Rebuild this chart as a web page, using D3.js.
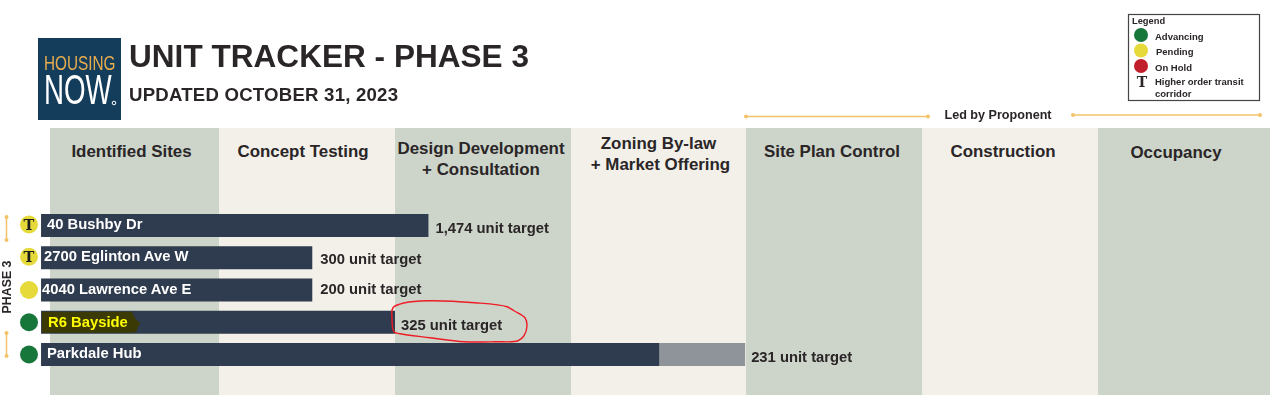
<!DOCTYPE html>
<html><head><meta charset="utf-8">
<script src="https://cdn.jsdelivr.net/npm/d3@7"></script>
<style>html,body{margin:0;padding:0;background:#fff}svg{display:block;filter:blur(0.35px)}text{font-family:"Liberation Sans",Arial,sans-serif;font-weight:700;fill:#2a2527}</style>
</head><body><svg id="c" width="1280" height="411"></svg>
<script>
const stages = ["Identified Sites","Concept Testing","Design Development|+ Consultation","Zoning By-law|+ Market Offering","Site Plan Control","Construction","Occupancy"];
const stageEdges = [0,1,2,3,4,5,6,7];
const sites = ["40 Bushby Dr","2700 Eglinton Ave W","4040 Lawrence Ave E","R6 Bayside","Parkdale Hub"];
const progress = [2.19,1.53,1.53,2.0,3.505];
const projected = [null,null,null,null,3.995];
const targets = ["1,474 unit target","300 unit target","200 unit target","325 unit target","231 unit target"];
const statuses = ["pending","pending","pending","advancing","advancing"];
const transit = [true,true,false,false,false];
const legendItems = ["Advancing","Pending","On Hold"];
const legendStatus = ["advancing","pending","hold"];

const svg = d3.select("#c");
const x = d3.scaleLinear().domain(stageEdges).range([50,219,395,571,746,922,1098,1270]);
const y = d3.scaleBand().domain(sites).range([214,366]).paddingInner(0.287).paddingOuter(0);
const color = d3.scaleOrdinal().domain(["advancing","pending","hold"]).range(["#17763a","#e6d93a","#c21f2d"]);
const barStart = -0.053;
const bandTop = 128, bandBottom = 395;

// stage bands
svg.append("g").selectAll("rect").data(stages).join("rect")
  .attr("x",(d,i)=>x(i)).attr("width",(d,i)=>x(i+1)-x(i))
  .attr("y",bandTop).attr("height",bandBottom-bandTop)
  .attr("fill",(d,i)=>i%2? "#f2f0e9":"#cdd5ca");

// stage headings
const headY = [151,151,148,143,151,151,152];
const headDx = [-3,-4,-2,0,-2,-7,-8];
stages.forEach((s,i)=>{
  const lines = s.split("|");
  const t = svg.append("text").attr("text-anchor","middle").attr("font-size",16.9);
  lines.forEach((l,j)=>t.append("tspan").attr("x",(x(i)+x(i+1))/2+headDx[i]+(i===3&&j===1?2:0)).attr("y",headY[i]+6+j*20.5).text(l));
});

// logo
const logo = svg.append("g");
logo.append("rect").attr("x",38).attr("y",38).attr("width",83).attr("height",82).attr("fill","#143d5c");
logo.append("text").attr("transform","translate(44,70) scale(0.73,1)").attr("font-size",21)
  .style("font-weight",400).style("fill","#e9ad4c").text("HOUSING");
logo.append("text").attr("transform","translate(44,104) scale(0.66,1)").attr("font-size",42)
  .style("font-weight",400).style("fill","#fff").text("NOW");
logo.append("circle").attr("cx",114).attr("cy",103).attr("r",1.8).attr("fill","none").attr("stroke","#fff").attr("stroke-width",1);

// titles
svg.append("text").attr("x",129).attr("y",67).attr("font-size",31.5).attr("textLength",400).text("UNIT TRACKER - PHASE 3");
svg.append("text").attr("x",129).attr("y",101).attr("font-size",18.6).attr("textLength",269).text("UPDATED OCTOBER 31, 2023");

// legend
const lg = svg.append("g");
lg.append("rect").attr("x",1128.5).attr("y",14.5).attr("width",131).attr("height",86).attr("fill","#fff").attr("stroke","#444").attr("stroke-width",1.2);
lg.append("text").attr("x",1132).attr("y",24).attr("font-size",9.3).text("Legend");
const legY = d3.scalePoint().domain(legendItems).range([35,66]);
lg.selectAll("circle").data(legendItems).join("circle").attr("cx",1141).attr("cy",d=>legY(d)).attr("r",7)
  .attr("fill",(d,i)=>color(legendStatus[i]));
lg.selectAll("text.li").data(legendItems).join("text").attr("class","li")
  .attr("x",(d,i)=>i===1?1156:1155).attr("y",d=>legY(d)+4.5).attr("font-size",9.5).text(d=>d);
lg.append("text").attr("x",1142).attr("y",87).attr("text-anchor","middle").attr("font-size",14)
  .style("font-family","'DejaVu Serif'").style("font-weight",700).text("T");
lg.append("text").attr("x",1155).attr("y",85).attr("font-size",9.5).text("Higher order transit");
lg.append("text").attr("x",1155).attr("y",97).attr("font-size",9.5).text("corridor");

// Led by proponent
const orange = "#f4c268";
function bracket(x1,y1,x2,y2){
  svg.append("line").attr("x1",x1).attr("y1",y1).attr("x2",x2).attr("y2",y2).attr("stroke",orange).attr("stroke-width",1.5);
  [[x1,y1],[x2,y2]].forEach(p=>svg.append("circle").attr("cx",p[0]).attr("cy",p[1]).attr("r",2).attr("fill",orange));
}
bracket(x(4),116.5,928,116.5);
bracket(1073,115,1260,115);
svg.append("text").attr("x",998).attr("y",119).attr("text-anchor","middle").attr("font-size",12.6).text("Led by Proponent");

// left brackets
bracket(6.5,y(sites[0])+3,6.5,y(sites[0])+26);
bracket(6.5,y(sites[4])-10,6.5,y(sites[4])+13);
svg.append("text").attr("transform","translate(11,287) rotate(-90)").attr("text-anchor","middle").attr("font-size",12.4).text("PHASE 3");

// projected (grey) bars
svg.append("g").selectAll("rect").data(sites.filter((d,i)=>projected[i]!==null)).join("rect")
  .attr("x",d=>x(progress[sites.indexOf(d)])).attr("y",d=>y(d))
  .attr("width",d=>x(projected[sites.indexOf(d)])-x(progress[sites.indexOf(d)]))
  .attr("height",y.bandwidth()).attr("fill","#8e9499");

// bars
svg.append("g").selectAll("rect").data(sites).join("rect")
  .attr("x",x(barStart)).attr("y",d=>y(d))
  .attr("width",(d,i)=>x(progress[i])-x(barStart)).attr("height",y.bandwidth())
  .attr("fill","#2f3b4e");

// highlighter on R6 Bayside
const yr6 = y("R6 Bayside");
svg.append("rect").attr("x",42).attr("y",yr6+1).attr("width",90).attr("height",y.bandwidth()-2).attr("fill","#3b3a05");
svg.append("path").attr("d",`M132,${yr6+1}L136,${yr6+9}L140,${yr6+12}L136,${yr6+21}L132,${yr6+22}Z`).attr("fill","#3b3a05");

// bar labels
const labelX = [47,44,42,48,47];
svg.append("g").selectAll("text").data(sites).join("text")
  .attr("x",(d,i)=>labelX[i]).attr("y",(d,i)=>y(d)+15+(i===3?1:0)).attr("font-size",14.8)
  .style("fill",d=>d==="R6 Bayside"?"#ffff00":"#fff").text(d=>d);

// target labels
const targetDx = [7,8,8,6,6];
const targetDy = [19,18,15,19,19];
svg.append("g").selectAll("text").data(targets).join("text")
  .attr("x",(d,i)=>x(projected[i]??progress[i])+targetDx[i])
  .attr("y",(d,i)=>y(sites[i])+targetDy[i]).attr("font-size",14.8).text(d=>d);

// status dots
svg.append("g").selectAll("circle").data(sites).join("circle")
  .attr("cx",29).attr("cy",(d,i)=>y(d)+y.bandwidth()/2-(i<2?1:0)).attr("r",9)
  .attr("fill",(d,i)=>color(statuses[i]));
svg.append("g").selectAll("text").data(sites.filter((d,i)=>transit[i])).join("text")
  .attr("x",29).attr("y",d=>y(d)+16).attr("text-anchor","middle").attr("font-size",14.5)
  .style("font-family","'DejaVu Serif'").style("font-weight",700).style("fill","#1c1c1c").text("T");

// hand-drawn red loop around the R6 target
const ox = x(progress[3]), oy = y("R6 Bayside");
const loop = [[-3,7],[-2,-3],[10,-8],[33,-10],[80,-8],[112,-4],[119,0],[130,7],[132,15],[129,25],[123,30],[100,31],[69,31],[35,27],[5,23],[-1,21],[-3,7]];
svg.append("path").attr("d",d3.line().x(d=>ox+d[0]).y(d=>oy+d[1]).curve(d3.curveCatmullRom)(loop))
  .attr("fill","none").attr("stroke","#ee1c25").attr("stroke-width",1.4);
</script></body></html>
